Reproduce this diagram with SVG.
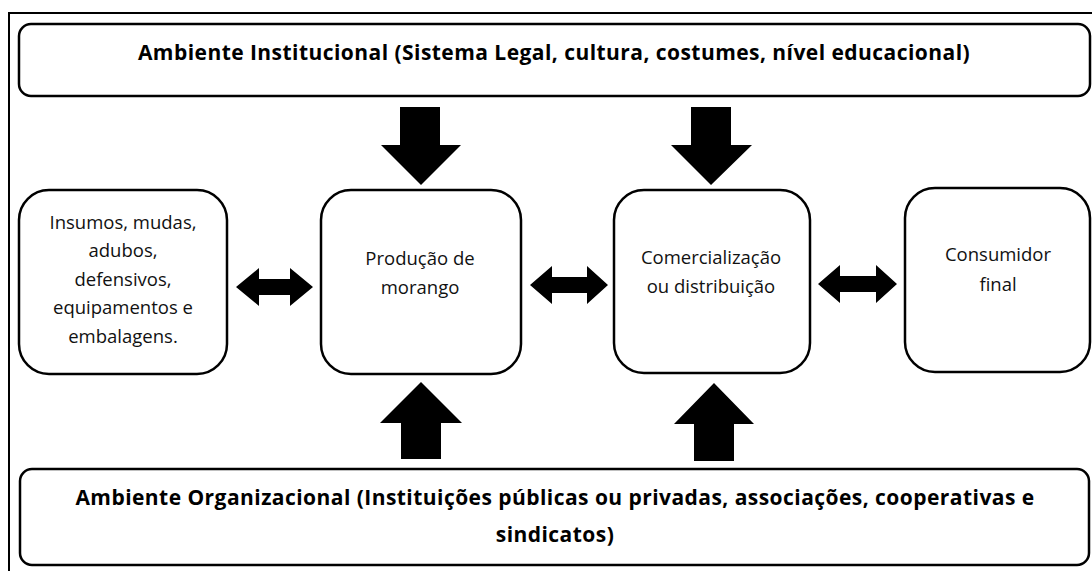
<svg xmlns="http://www.w3.org/2000/svg" width="1092" height="571" viewBox="0 0 1092 571">
<style>
.box{fill:#fff;stroke:#000;stroke-width:2.5}
.frame{fill:none;stroke:#000;stroke-width:2}
.arr{fill:#000}
.t{font-family:"Open Sans","Noto Sans",sans-serif;font-size:18.5px;fill:#111;text-anchor:middle}
.b{font-family:"Open Sans","Noto Sans",sans-serif;font-size:21px;letter-spacing:0.45px;font-weight:bold;fill:#000;text-anchor:middle}
</style>
<rect class="frame" x="9" y="13" width="1100" height="570"/>
<g id="ambiente-institucional">
<rect class="box" x="19" y="24" width="1071" height="72" rx="12"/>
<text class="b" x="554" y="60">Ambiente Institucional (Sistema Legal, cultura, costumes, nível educacional)</text>
</g>
<g id="insumos">
<rect class="box" x="19" y="190" width="208" height="184" rx="30"/>
<text class="t" x="123" y="229">Insumos, mudas,</text>
<text class="t" x="123" y="257">adubos,</text>
<text class="t" x="123" y="286">defensivos,</text>
<text class="t" x="123" y="314">equipamentos e</text>
<text class="t" x="123" y="343">embalagens.</text>
</g>
<g id="producao">
<rect class="box" x="321" y="190" width="200" height="184" rx="30"/>
<text class="t" x="420" y="265">Produção de</text>
<text class="t" x="420" y="294">morango</text>
</g>
<g id="comercializacao">
<rect class="box" x="614" y="190" width="196" height="183" rx="30"/>
<text class="t" x="711" y="264">Comercialização</text>
<text class="t" x="711" y="293">ou distribuição</text>
</g>
<g id="consumidor">
<rect class="box" x="905" y="188" width="185" height="184" rx="30"/>
<text class="t" x="998" y="261">Consumidor</text>
<text class="t" x="998" y="291">final</text>
</g>
<g id="ambiente-organizacional">
<rect class="box" x="20" y="469" width="1069" height="96" rx="12"/>
<text class="b" x="555" y="505">Ambiente Organizacional (Instituições públicas ou privadas, associações, cooperativas e</text>
<text class="b" x="555" y="542">sindicatos)</text>
</g>
<g id="connectors">
<polygon class="arr" points="400,107 440,107 440,145 461,145 421,185 381,145 400,145"/>
<polygon class="arr" points="691,107 731,107 731,145 752,145 711,185 671,145 691,145"/>
<polygon class="arr" points="401,459 441,459 441,423 462,423 421,382 380,423 401,423"/>
<polygon class="arr" points="694,461 734,461 734,424 754,424 714,383 674,424 694,424"/>
<polygon class="arr" points="236,287 259,268 259,279 290,279 290,268 313,287 290,306 290,295 259,295 259,306"/>
<polygon class="arr" points="530,285 552,266 552,277 587,277 587,266 608,285 587,304 587,293 552,293 552,304"/>
<polygon class="arr" points="818,284 840,265 840,276 876,276 876,265 897,284 876,303 876,292 840,292 840,303"/>
</g>
</svg>
